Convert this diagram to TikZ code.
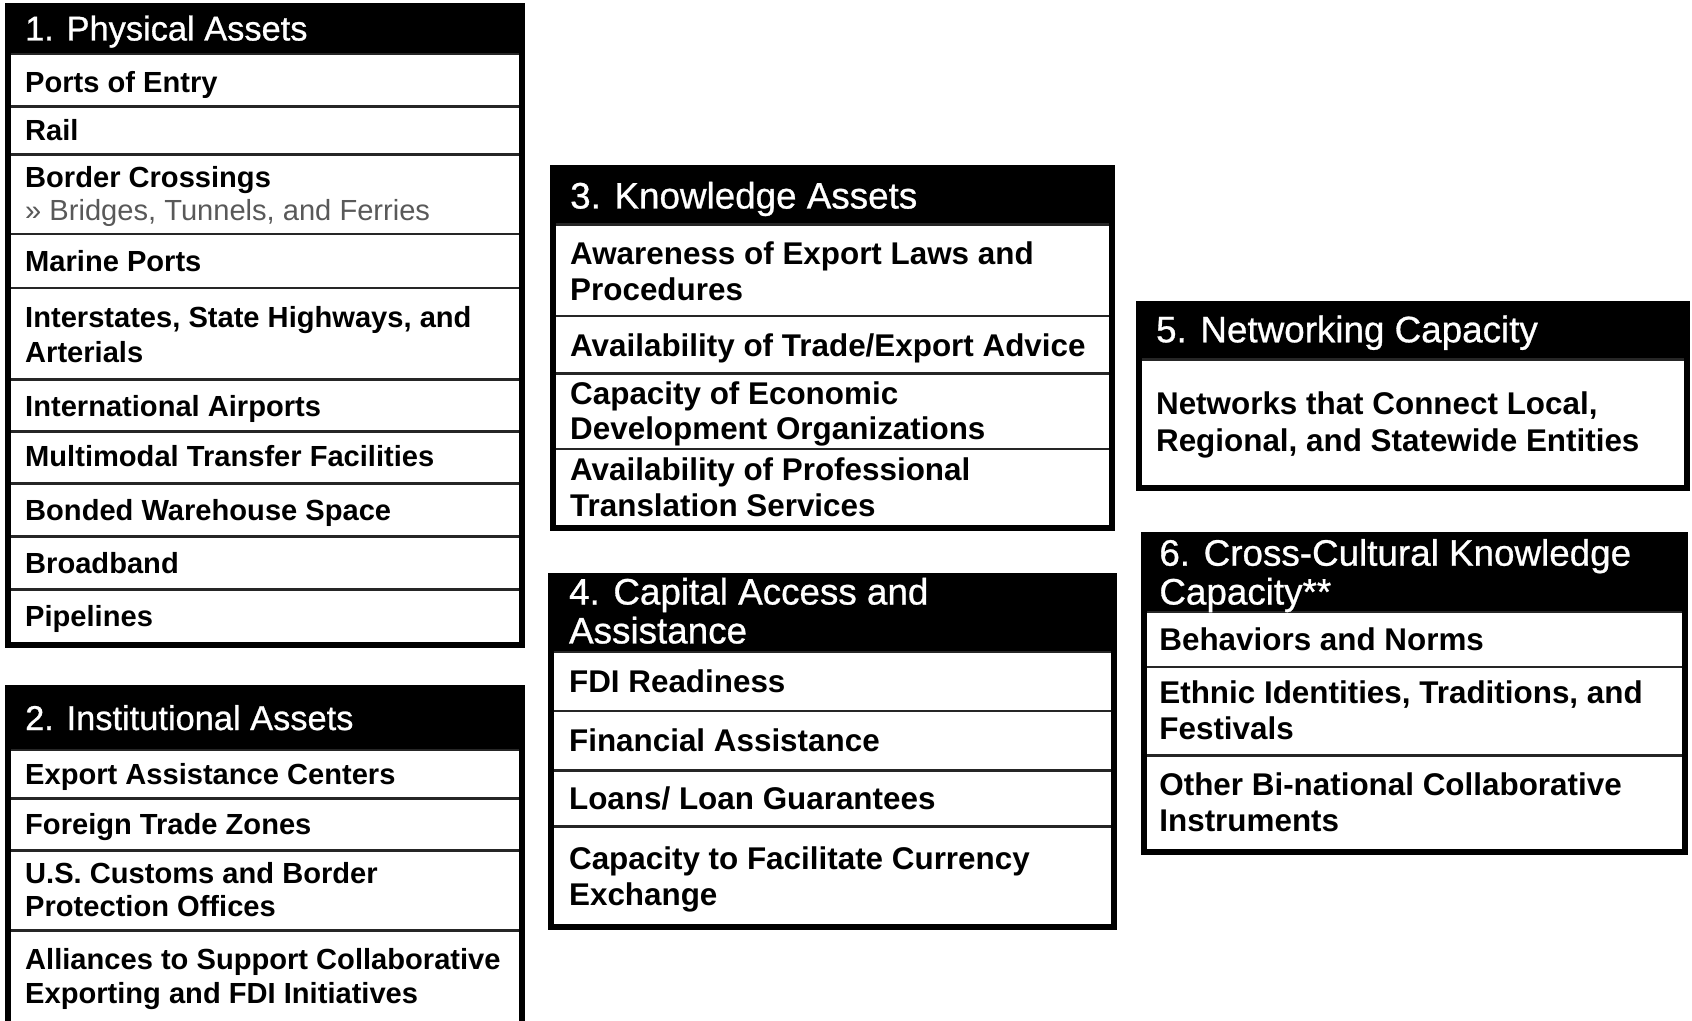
\documentclass[tikz,border=0pt]{standalone}
\usepackage{fontspec}
\setmainfont{Liberation Sans}
\newfontfamily\headfont[FakeBold=0.8]{Liberation Sans}
\begin{document}
\begin{tikzpicture}[x=0.5pt,y=-0.5pt,
  frame/.style={draw=black, line width=3pt},
  headfill/.style={fill=black},
  rowline/.style={draw=black!85, line width=1.3pt},
  headA/.style={anchor=base west, inner sep=0pt, text=white, font=\headfont\fontsize{17.2}{20}\selectfont},
  headB/.style={anchor=base west, inner sep=0pt, text=white, font=\headfont\fontsize{18.4}{22}\selectfont},
  itemA/.style={anchor=base west, inner sep=0pt, text=black, font=\fontsize{14.55}{17}\selectfont\bfseries},
  itemB/.style={anchor=base west, inner sep=0pt, text=black, font=\fontsize{15.7}{18}\selectfont\bfseries},
  subA/.style={anchor=base west, inner sep=0pt, text=black!65, font=\fontsize{14.55}{17}\selectfont},
]
\useasboundingbox (0,0) rectangle (1692,1021);
\clip (0,0) rectangle (1692,1021);
\fill[white] (0,0) rectangle (1692,1021);

% ---------- 1. Physical Assets ----------
\fill[headfill] (8,6) rectangle (522,54);
\foreach \yy in {54,106.8,154.3,234.2,288.1,379.8,431.6,483.4,536.3,589.2}
  \draw[rowline] (8,\yy) -- (522,\yy);
\draw[frame] (8,6) rectangle (522,644.5);
\node[headA] (h1) at (24.8,40.5) {1. Physical Assets};
\node[itemA] (p1) at (24.8,92.4) {Ports of Entry};
\node[itemA] (p2) at (24.8,141.0) {Rail};
\node[itemA] (p3) at (24.8,187.4) {Border Crossings};
\node[subA]  (p3s) at (24.8,220.8) {» Bridges, Tunnels, and Ferries};
\node[itemA] (p4) at (24.8,271.5) {Marine Ports};
\node[itemA] (p5) at (24.8,327.7) {Interstates, State Highways, and};
\node[itemA] (p5b) at (24.8,362.2) {Arterials};
\node[itemA] (p6) at (24.8,416.1) {International Airports};
\node[itemA] (p7) at (24.8,466.9) {Multimodal Transfer Facilities};
\node[itemA] (p8) at (24.8,520.8) {Bonded Warehouse Space};
\node[itemA] (p9) at (24.8,573.7) {Broadband};
\node[itemA] (p10) at (24.8,626.6) {Pipelines};

% ---------- 2. Institutional Assets ----------
\fill[headfill] (8,688) rectangle (522,750);
\foreach \yy in {750,798.5,850.3,930.2}
  \draw[rowline] (8,\yy) -- (522,\yy);
\draw[frame] (8,688) rectangle (522,1040);
\node[headA] (h2) at (24.8,730.0) {2. Institutional Assets};
\node[itemA] (i1) at (24.8,784.1) {Export Assistance Centers};
\node[itemA] (i2) at (24.8,834.8) {Foreign Trade Zones};
\node[itemA] (i3) at (24.8,883.4) {U.S. Customs and Border};
\node[itemA] (i3b) at (24.8,916.8) {Protection Offices};
\node[itemA] (i4) at (24.8,969.7) {Alliances to Support Collaborative};
\node[itemA] (i4b) at (24.8,1003.2) {Exporting and FDI Initiatives};

% ---------- 3. Knowledge Assets ----------
\fill[headfill] (553,168) rectangle (1111.7,224.5);
\foreach \yy in {224.5,316.2,373.4,448.9}
  \draw[rowline] (553,\yy) -- (1111.7,\yy);
\draw[frame] (553,168) rectangle (1111.7,528);
\node[headB] (h3) at (569.8,208.5) {3. Knowledge Assets};
\node[itemB] (k1) at (569.8,264.9) {Awareness of Export Laws and};
\node[itemB] (k1b) at (569.8,300.5) {Procedures};
\node[itemB] (k2) at (569.8,356.6) {Availability of Trade/Export Advice};
\node[itemB] (k3) at (569.8,404.1) {Capacity of Economic};
\node[itemB] (k3b) at (569.8,439.7) {Development Organizations};
\node[itemB] (k4) at (569.8,480.7) {Availability of Professional};
\node[itemB] (k4b) at (569.8,516.3) {Translation Services};

% ---------- 4. Capital Access and Assistance ----------
\fill[headfill] (551,576) rectangle (1114,651.8);
\foreach \yy in {651.8,711.1,770.5,826.6}
  \draw[rowline] (551,\yy) -- (1114,\yy);
\draw[frame] (551,576) rectangle (1114,927.2);
\node[headB] (h4) at (568.7,604.5) {4. Capital Access and};
\node[headB] (h4b) at (568.7,643.4) {Assistance};
\node[itemB] (c1) at (568.7,692.2) {FDI Readiness};
\node[itemB] (c2) at (568.7,751.6) {Financial Assistance};
\node[itemB] (c3) at (568.7,809.8) {Loans/ Loan Guarantees};
\node[itemB] (c4) at (568.7,869.2) {Capacity to Facilitate Currency};
\node[itemB] (c4b) at (568.7,905.9) {Exchange};

% ---------- 5. Networking Capacity ----------
\fill[headfill] (1139.3,304.1) rectangle (1687,359.3);
\draw[rowline] (1139.3,359.3) -- (1687,359.3);
\draw[frame] (1139.3,304.1) rectangle (1687,488);
\node[headB] (h5) at (1155.7,342.3) {5. Networking Capacity};
\node[itemB] (n1) at (1155.7,414.9) {Networks that Connect Local,};
\node[itemB] (n1b) at (1155.7,451.6) {Regional, and Statewide Entities};

% ---------- 6. Cross-Cultural Knowledge Capacity ----------
\fill[headfill] (1143.6,535) rectangle (1684.7,611.8);
\foreach \yy in {611.8,666.9,755.4}
  \draw[rowline] (1143.6,\yy) -- (1684.7,\yy);
\draw[frame] (1143.6,535) rectangle (1684.7,851.6);
\node[headB] (h6) at (1159,565.7) {6. Cross-Cultural Knowledge};
\node[headB] (h6b) at (1159,604.5) {Capacity**};
\node[itemB] (x1) at (1159,650.1) {Behaviors and Norms};
\node[itemB] (x2) at (1159,703.0) {Ethnic Identities, Traditions, and};
\node[itemB] (x2b) at (1159,739.7) {Festivals};
\node[itemB] (x3) at (1159,795.8) {Other Bi-national Collaborative};
\node[itemB] (x3b) at (1159,831.4) {Instruments};
\end{tikzpicture}
\end{document}
